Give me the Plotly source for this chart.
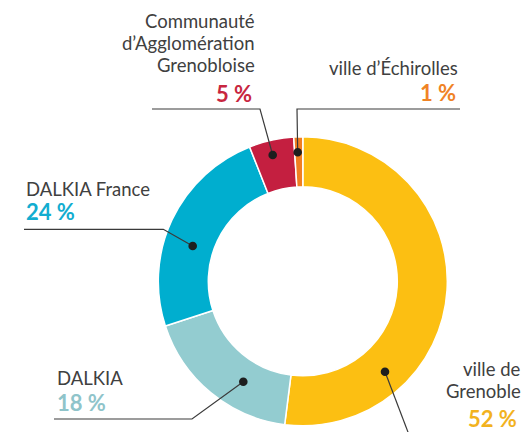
import plotly.graph_objects as go

labels = ["ville de Grenoble", "DALKIA", "DALKIA France",
          "Communauté d'Agglomération Grenobloise", "ville d'Échirolles"]
values = [52, 18, 24, 5, 1]
colors = ["#FCBF12", "#93CCD0", "#00AECF", "#C41F40", "#F07F22"]
pct_colors = ["#F2B21E", "#8FC4CA", "#12ADD0", "#C8263F", "#F08325"]
name_lines = [["ville de", "Grenoble"], ["DALKIA"], ["DALKIA France"],
              ["Communauté", "d’Agglomération", "Grenobloise"], ["ville d’Échirolles"]]
pct_text = [f"{v}\u00a0%" for v in values]

W, H = 524, 432
def px(x):
    return x / W
def py(y):
    return 1 - y / H

cx, cy, R = 302.8, 281.3, 144.5

fig = go.Figure(go.Pie(
    labels=labels, values=values, sort=False, direction="clockwise", rotation=0,
    hole=0.654, marker=dict(colors=colors, line=dict(color="white", width=1.5)),
    textinfo="none", hoverinfo="label+percent", showlegend=False,
    domain=dict(x=[px(cx - R), px(cx + R)], y=[py(cy + R), py(cy - R)]),
))

# leader lines: (dot, elbow, end) in pixels
leaders = [
    [(385, 371.7), (411, 440)],
    [(243.3, 381.7), (192, 419), (54, 419)],
    [(192.7, 246), (163.3, 229.3), (24, 229.3)],
    [(272.7, 155), (260, 109), (152, 109)],
    [(297.7, 152.3), (297, 109), (460, 109)],
]
shapes = []
for pts in leaders:
    path = "M " + " L ".join(f"{px(x)},{py(y)}" for x, y in pts)
    shapes.append(dict(type="path", path=path, xref="paper", yref="paper",
                       line=dict(color="#3a3a3a", width=1.2)))
    x0, y0 = pts[0]
    r = 4.3
    shapes.append(dict(type="circle", xref="paper", yref="paper",
                       x0=px(x0 - r), x1=px(x0 + r), y0=py(y0 + r), y1=py(y0 - r),
                       fillcolor="#1e1e1e", line=dict(width=0)))

FONT = "Lato"
TXT = "#404040"
annos = []
# (name x, first baseline y, anchor, pct x, pct center y)
pos = [
    (523, 375, "right", 519, 418),
    (55, 384, "left", 55, 402),
    (24, 195, "left", 24, 212),
    (257, 27.5, "right", 254, 94),
    (460, 73.5, "right", 458, 92),
]
for i, (nx, nb, anc, qx, qy) in enumerate(pos):
    for j, line in enumerate(name_lines[i]):
        yb = nb + 22 * j
        annos.append(dict(x=px(nx), y=py(yb - 6), xref="paper", yref="paper", text=line,
                          showarrow=False, xanchor=anc, yanchor="middle", align=anc,
                          font=dict(family=FONT, size=18.5, color=TXT)))
    annos.append(dict(x=px(qx), y=py(qy), xref="paper", yref="paper",
                      text=f"<b>{pct_text[i]}</b>",
                      showarrow=False, xanchor=anc, yanchor="middle", align=anc,
                      font=dict(family=FONT, size=22, color=pct_colors[i])))

fig.update_layout(width=W, height=H, margin=dict(l=0, r=0, t=0, b=0),
                  paper_bgcolor="white", plot_bgcolor="white",
                  shapes=shapes, annotations=annos)
fig.write_html("out.html")
